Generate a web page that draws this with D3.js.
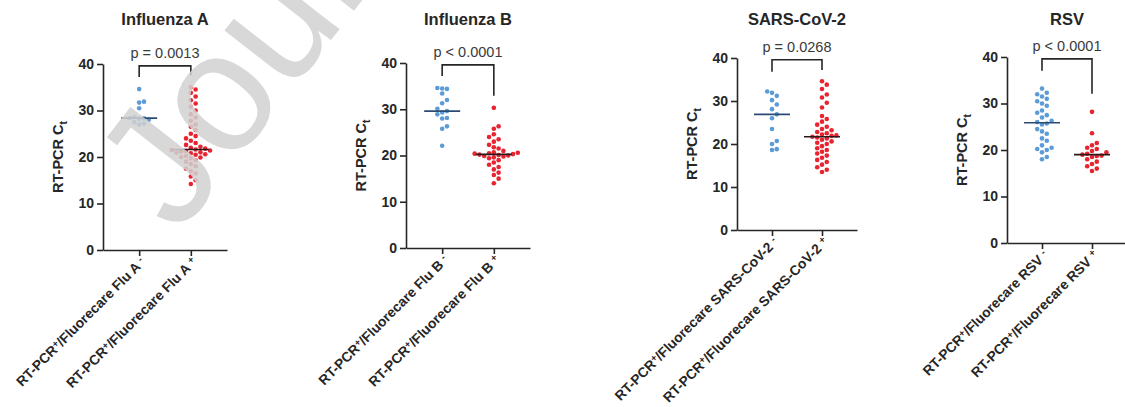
<!DOCTYPE html>
<html>
<head>
<meta charset="utf-8">
<script src="https://cdn.jsdelivr.net/npm/d3@7"></script>
<style>
  body { margin: 0; background: #fff; }
  svg { display: block; font-family: "Liberation Sans", Arial, sans-serif; }
</style>
</head>
<body>
<svg id="chart" width="1125" height="407"></svg>
<script>
// Chart data
const panelTitles = ["Influenza A", "Influenza B", "SARS-CoV-2", "RSV"];
const targetNames = ["Flu A", "Flu B", "SARS-CoV-2", "RSV"];
const pLabels = ["p = 0.0013", "p < 0.0001", "p = 0.0268", "p < 0.0001"];
const yTicks = [0, 10, 20, 30, 40];

const fluANeg = [34.6, 31.9, 31.7, 30.5, 28.6, 28.4, 28.3, 28.2, 28.0, 27.5, 27.2, 27.0];
const fluAPos = [35.0, 34.5, 33.8, 33.0, 32.2, 31.5, 30.8, 30.0, 29.2, 28.5, 27.8, 27.0, 26.5, 25.8, 25.0,
                 24.5, 24.0, 23.5, 23.0, 22.6, 22.2, 22.0, 21.8, 21.6, 21.5, 21.4, 21.3, 21.2, 21.0, 20.9,
                 20.8, 20.6, 20.5, 20.2, 20.0, 19.9, 19.7, 19.3, 19.0, 18.5, 18.0, 17.5, 17.0, 16.5, 15.8,
                 15.0, 14.2];
const fluBNeg = [34.6, 34.5, 34.4, 33.4, 32.0, 31.3, 30.1, 29.6, 29.3, 28.9, 28.1, 28.0, 26.3, 25.8, 22.1];
const fluBPos = [30.3, 26.3, 25.8, 24.6, 24.0, 23.5, 23.0, 22.3, 21.8, 21.5, 21.0, 20.7, 20.6, 20.5, 20.4,
                 20.3, 20.2, 20.1, 20.0, 19.9, 19.8, 19.6, 19.4, 19.0, 18.5, 18.0, 17.5, 17.0, 16.3, 15.8,
                 15.0, 14.0];
const covNeg = [32.2, 31.9, 31.2, 30.2, 29.2, 28.1, 26.9, 26.0, 23.5, 20.7, 20.0, 18.8, 18.6];
const covPos = [34.6, 33.8, 32.8, 31.5, 30.8, 29.6, 28.5, 26.5, 25.8, 25.2, 24.5, 24.0, 23.5, 23.2, 22.8,
                22.5, 22.2, 22.0, 21.9, 21.7, 21.5, 21.3, 21.0, 20.6, 20.3, 20.0, 19.5, 19.0, 18.6, 18.2,
                17.8, 17.3, 16.8, 16.3, 15.8, 15.2, 14.6, 14.0, 13.5];
const rsvNeg = [33.2, 32.3, 32.0, 31.5, 31.0, 30.5, 30.0, 29.5, 28.5, 28.0, 27.5, 27.0, 26.3, 26.0, 25.7,
                25.5, 24.5, 24.0, 23.5, 22.5, 22.0, 21.0, 20.5, 20.2, 20.0, 19.5, 18.5, 18.0];
const rsvPos = [28.2, 23.6, 21.5, 21.0, 20.5, 20.2, 19.8, 19.5, 19.2, 19.0, 18.8, 18.7, 18.5, 18.0, 17.5,
                17.0, 16.5, 16.0, 15.5];

const negSeries = [fluANeg, fluBNeg, covNeg, rsvNeg];
const posSeries = [fluAPos, fluBPos, covPos, rsvPos];

// panel boxes on the page (pixels)
const layout = [
  { x0: 103, x1: 227, yBottom: 250, yTop: 64 },
  { x0: 406, x1: 530, yBottom: 248, yTop: 63 },
  { x0: 737, x1: 857, yBottom: 230, yTop: 58 },
  { x0: 1007, x1: 1127, yBottom: 243, yTop: 57 }
];

const blue = "#5b9bd8", red = "#e82430";
const blueMedian = "#2c4a72", redMedian = "#2a1a1a";
const ink = "#262626";

const svg = d3.select("#chart");

// simple swarm: place each point at the nearest free horizontal slot
function swarm(values, y, dotGap) {
  const placed = [];
  const sorted = values.slice().sort((a, b) => a - b);
  sorted.forEach(v => {
    const py = y(v);
    let k = 0, off = 0;
    while (true) {
      off = k === 0 ? 0 : (k % 2 ? 1 : -1) * Math.ceil(k / 2) * dotGap;
      const hit = placed.some(p => Math.hypot(p.dx - off, p.py - py) < dotGap);
      if (!hit) break;
      k++;
    }
    placed.push({ v: v, py: py, dx: off });
  });
  return placed;
}

panelTitles.forEach((title, i) => {
  const L = layout[i];
  const g = svg.append("g");

  const y = d3.scaleLinear().domain([0, 40]).range([L.yBottom, L.yTop]);
  const groups = ["neg", "pos"];
  const x = d3.scalePoint().domain(groups).range([L.x0, L.x1]).padding(0.7);

  // y axis
  const yAxis = g.append("g")
    .attr("transform", `translate(${L.x0},0)`)
    .call(d3.axisLeft(y).tickValues(yTicks).tickSize(6).tickPadding(3).tickSizeOuter(0));
  yAxis.select(".domain").attr("stroke", ink).attr("stroke-width", 1.6);
  yAxis.selectAll(".tick line").attr("stroke", ink).attr("stroke-width", 1.6);
  yAxis.selectAll(".tick text")
    .attr("fill", ink)
    .style("font-size", "14px")
    .style("font-weight", "bold");

  // x axis
  const xAxis = g.append("g")
    .attr("transform", `translate(0,${L.yBottom})`)
    .call(d3.axisBottom(x).tickSize(6).tickSizeOuter(0).tickFormat(""));
  xAxis.select(".domain").attr("stroke", ink).attr("stroke-width", 1.6);
  xAxis.selectAll(".tick line").attr("stroke", ink).attr("stroke-width", 1.6);

  // rotated category labels
  groups.forEach(gr => {
    const t = g.append("text")
      .attr("text-anchor", "end")
      .attr("transform", `translate(${x(gr) + 7},${L.yBottom + 13}) rotate(-45)`)
      .attr("fill", ink)
      .style("font-size", "13.8px")
      .style("font-weight", "bold");
    t.append("tspan").text("RT-PCR");
    t.append("tspan").attr("dy", -4).style("font-size", "9.5px").text("+");
    t.append("tspan").attr("dy", 4).text(`/Fluorecare ${targetNames[i]} `);
    t.append("tspan").attr("dy", -4).style("font-size", "9.5px").text(gr === "neg" ? "-" : "+");
  });

  // y label
  const yl = g.append("text")
    .attr("text-anchor", "middle")
    .attr("transform", `translate(${L.x0 - 40},${y(20)}) rotate(-90)`)
    .attr("fill", ink)
    .style("font-size", "14.5px")
    .style("font-weight", "bold");
  yl.append("tspan").text("RT-PCR C");
  yl.append("tspan").attr("dy", 4).style("font-size", "10px").text("t");

  // title
  g.append("text")
    .attr("x", (L.x0 + L.x1) / 2)
    .attr("y", 25)
    .attr("text-anchor", "middle")
    .attr("fill", ink)
    .style("font-size", "16.5px")
    .style("font-weight", "bold")
    .text(title);

  // points + medians
  [negSeries[i], posSeries[i]].forEach((vals, j) => {
    const gr = groups[j];
    const pts = swarm(vals, y, 4.8);
    g.append("g").selectAll("circle")
      .data(pts)
      .enter()
      .append("circle")
      .attr("cx", d => x(gr) + d.dx)
      .attr("cy", d => d.py)
      .attr("r", 2.3)
      .attr("fill", j === 0 ? blue : red);
    const med = d3.median(vals);
    g.append("line")
      .attr("x1", x(gr) - 18).attr("x2", x(gr) + 18)
      .attr("y1", y(med)).attr("y2", y(med))
      .attr("stroke", j === 0 ? blueMedian : redMedian)
      .attr("stroke-width", 1.6);
  });

  // significance bracket
  const top = y(39.6);
  const leftEnd = Math.min(y(d3.max(negSeries[i]) + 2.6), top + 12);
  const rightEnd = Math.min(y(d3.max(posSeries[i]) + 2.6), top + 35);
  g.append("path")
    .attr("d", `M${x("neg")},${leftEnd}V${top}H${x("pos")}V${rightEnd}`)
    .attr("fill", "none")
    .attr("stroke", ink)
    .attr("stroke-width", 1.6);
  g.append("text")
    .attr("x", (x("neg") + x("pos")) / 2)
    .attr("y", top - 8)
    .attr("text-anchor", "middle")
    .attr("fill", "#3a3a3a")
    .style("font-size", "14.5px")
    .text(pLabels[i]);
});

// journal watermark
svg.append("text")
  .attr("transform", "translate(178,236) rotate(-52)")
  .attr("fill", "#d2d2d2")
  .attr("opacity", 0.85)
  .style("font-size", "170px")
  .text("Journal");
</script>
</body>
</html>
